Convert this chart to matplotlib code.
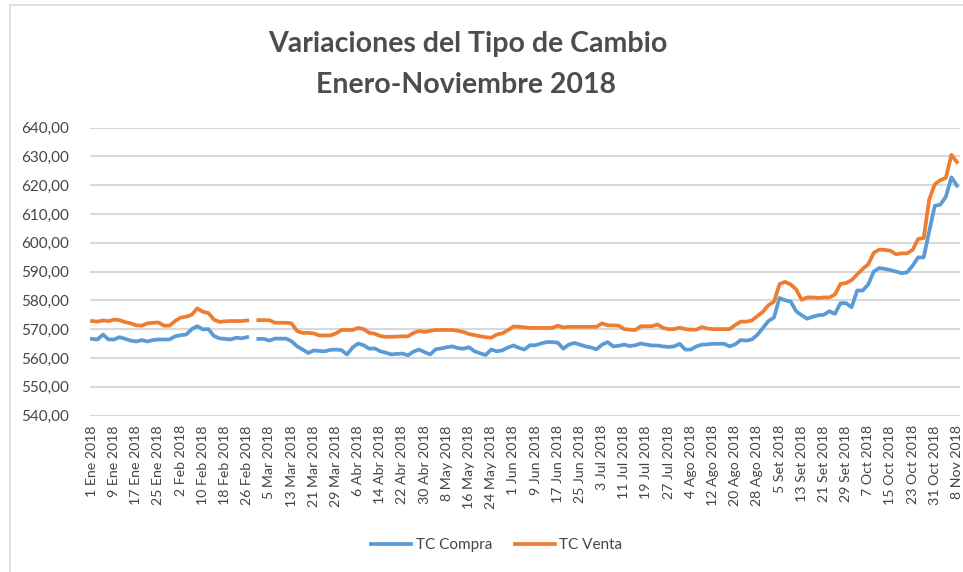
import numpy as np
import matplotlib
matplotlib.use("Agg")
import matplotlib.pyplot as plt
from matplotlib.lines import Line2D

nan = np.nan

# Values sampled every 2 days (index positions 0, 2, 4, ... 312)
tc_compra = [
    566.6, 566.4, 568.1, 566.4, 566.4, 567.2, 566.6, 566.0, 565.7, 566.2,
    565.7, 566.2, 566.4, 566.4, 566.4, 567.5, 567.9, 568.1, 570.0, 571.0,
    569.9, 570.0, 567.6, 566.8, 566.6, 566.4, 567.0, 566.8, 567.2, nan,
    566.6, 566.6, 566.0, 566.7, 566.7, 566.7, 565.8, 564.0, 562.9, 561.7,
    562.6, 562.4, 562.3, 562.8, 562.9, 562.7, 561.2, 563.6, 565.0, 564.4,
    563.2, 563.3, 562.3, 561.8, 561.2, 561.4, 561.5, 560.9, 562.2, 562.9,
    562.0, 561.2, 563.0, 563.3, 563.7, 564.0, 563.4, 563.2, 563.7, 562.3,
    561.6, 561.0, 562.9, 562.3, 562.6, 563.6, 564.3, 563.5, 562.9, 564.4,
    564.4, 565.0, 565.5, 565.5, 565.3, 563.2, 564.6, 565.2, 564.6, 564.0,
    563.6, 563.0, 564.6, 565.5, 564.0, 564.2, 564.6, 564.1, 564.4, 565.0,
    564.6, 564.3, 564.3, 564.0, 563.8, 564.0, 564.9, 562.9, 562.9, 564.0,
    564.6, 564.7, 564.9, 564.9, 564.9, 564.0, 564.7, 566.2, 566.0, 566.4,
    568.0, 570.4, 572.8, 574.0, 580.8, 580.0, 579.6, 576.2, 574.8, 573.6,
    574.3, 574.8, 575.0, 576.2, 575.3, 579.0, 579.0, 577.6, 583.4, 583.4,
    585.5, 590.0, 591.2, 590.9, 590.5, 590.0, 589.4, 589.7, 592.0, 594.9,
    594.9, 604.0, 612.8, 613.2, 616.0, 622.7, 619.8,
]

tc_venta = [
    572.8, 572.6, 573.0, 572.8, 573.3, 573.1, 572.4, 572.0, 571.3, 571.2,
    572.0, 572.2, 572.3, 571.2, 571.2, 572.8, 574.0, 574.3, 575.0, 577.2,
    576.0, 575.6, 573.3, 572.5, 572.7, 572.8, 572.8, 572.8, 573.0, nan,
    573.1, 573.1, 573.1, 572.2, 572.2, 572.2, 572.0, 569.3, 568.7, 568.7,
    568.5, 567.8, 567.8, 567.8, 568.5, 569.7, 569.7, 569.7, 570.4, 570.0,
    568.7, 568.4, 567.6, 567.3, 567.3, 567.4, 567.5, 567.5, 568.7, 569.3,
    569.0, 569.4, 569.7, 569.7, 569.7, 569.7, 569.4, 569.0, 568.3, 567.9,
    567.5, 567.2, 567.0, 568.1, 568.5, 569.6, 570.9, 570.8, 570.6, 570.4,
    570.4, 570.4, 570.4, 570.4, 571.2, 570.6, 570.8, 570.8, 570.8, 570.8,
    570.8, 570.8, 572.0, 571.3, 571.3, 571.2, 570.0, 569.8, 569.7, 571.0,
    571.0, 571.0, 571.6, 570.4, 570.0, 570.0, 570.5, 570.0, 569.8, 569.8,
    570.7, 570.2, 570.0, 570.0, 570.0, 570.0, 571.4, 572.6, 572.6, 573.0,
    574.5, 576.0, 578.3, 579.5, 585.6, 586.4, 585.5, 583.8, 580.2, 581.0,
    581.0, 580.8, 581.0, 581.0, 582.0, 585.7, 586.0, 587.0, 589.0, 590.9,
    592.5, 596.5, 597.6, 597.5, 597.2, 596.0, 596.3, 596.3, 597.5, 601.3,
    601.6, 615.0, 620.3, 621.7, 622.5, 630.5, 628.0,
]

tick_labels = [
    "1 Ene 2018", "9 Ene 2018", "17 Ene 2018", "25 Ene 2018",
    "2 Feb 2018", "10 Feb 2018", "18 Feb 2018", "26 Feb 2018",
    "5 Mar 2018", "13 Mar 2018", "21 Mar 2018", "29 Mar 2018",
    "6 Abr 2018", "14 Abr 2018", "22 Abr 2018", "30 Abr 2018",
    "8 May 2018", "16 May 2018", "24 May 2018",
    "1 Jun 2018", "9 Jun 2018", "17 Jun 2018", "25 Jun 2018",
    "3 Jul 2018", "11 Jul 2018", "19 Jul 2018", "27 Jul 2018",
    "4 Ago 2018", "12 Ago 2018", "20 Ago 2018", "28 Ago 2018",
    "5 Set 2018", "13 Set 2018", "21 Set 2018", "29 Set 2018",
    "7 Oct 2018", "15 Oct 2018", "23 Oct 2018", "31 Oct 2018",
    "8 Nov 2018",
]

y_ticks = [540, 550, 560, 570, 580, 590, 600, 610, 620, 630, 640]
series_names = ["TC Compra", "TC Venta"]
title_lines = ["Variaciones del Tipo de Cambio", "Enero-Noviembre 2018"]

plt.rcParams['font.family'] = ['Lato', 'DejaVu Sans']

W, H = 963, 572
fig = plt.figure(figsize=(W / 100, H / 100), dpi=100)
fig.patch.set_facecolor('white')

ax = fig.add_axes([90 / W, 1 - 415.5 / H, (960 - 90) / W, (415.5 - 127.5) / H])

x_compra = np.arange(len(tc_compra)) * 2
x_venta = np.arange(len(tc_venta)) * 2

blue = '#5B9BD5'
orange = '#ED7D31'
ax.plot(x_compra, tc_compra, color=blue, lw=2.7, solid_joinstyle='round', zorder=3)
ax.plot(x_venta, tc_venta, color=orange, lw=2.7, solid_joinstyle='round', zorder=3)

ax.set_ylim(540, 640)
ax.set_xlim(-0.7, 313.1)
ax.set_yticks(y_ticks)
ax.set_yticklabels([f"{v:.2f}".replace('.', ',') for v in y_ticks],
                   fontsize=11, color='#454545')
tick_pos = np.arange(len(tick_labels)) * 8
ax.set_xticks(tick_pos)
ax.set_xticklabels(tick_labels, rotation=90, fontsize=10.2, color='#454545')
ax.tick_params(axis='y', length=0, pad=15)
ax.tick_params(axis='x', length=0, pad=7)
for s in ax.spines.values():
    s.set_visible(False)
ax.grid(axis='y', color='#D9D9D9', lw=1.5, zorder=0)
ax.set_axisbelow(True)

fig.text(0.486, 1 - 44 / H, title_lines[0], ha='center', va='center',
         fontsize=20.5, fontweight='bold', color='#4d4d4d')
fig.text(0.484, 1 - 85 / H, title_lines[1], ha='center', va='center',
         fontsize=20.5, fontweight='bold', color='#4d4d4d')

handles = [Line2D([], [], color=blue, lw=2.7), Line2D([], [], color=orange, lw=2.7)]
fig.legend(handles, series_names, loc='center', bbox_to_anchor=(0.516, 1 - 545 / H),
           ncol=2, frameon=False, fontsize=11, handlelength=2.6, handletextpad=0.3,
           columnspacing=1.5, labelcolor='#454545')

# chart border
fig.add_artist(Line2D([10 / W, 10 / W], [0, 1 - 5 / H], color='#D9D9D9', lw=1.2,
                      transform=fig.transFigure))
fig.add_artist(Line2D([10 / W, 1], [1 - 5 / H, 1 - 5 / H], color='#D9D9D9', lw=1.2,
                      transform=fig.transFigure))

fig.savefig('out.png', dpi=100)
